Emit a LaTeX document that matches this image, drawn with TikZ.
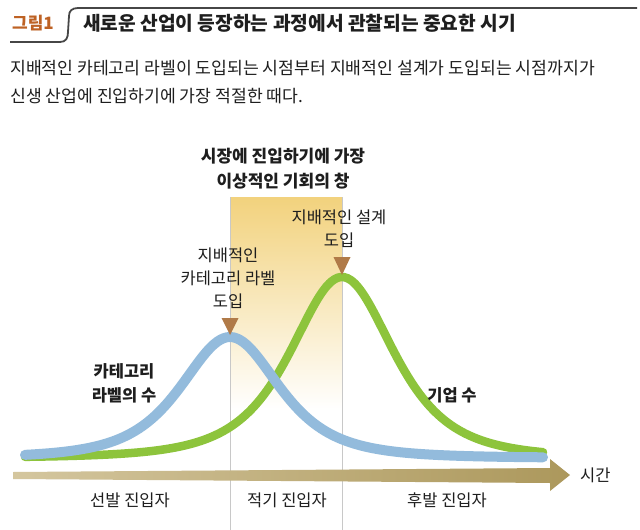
\documentclass[tikz,border=0pt]{standalone}
\usepackage{fontspec}
\setmainfont{Noto Sans CJK KR}
\definecolor{figorange}{RGB}{190,98,36}
\definecolor{curveblue}{RGB}{147,187,220}
\definecolor{curvegreen}{RGB}{141,196,60}
\definecolor{markbrown}{RGB}{176,122,72}
\definecolor{goldtop}{RGB}{242,210,125}
\definecolor{axisleft}{RGB}{212,198,158}
\definecolor{axisright}{RGB}{172,152,92}
\definecolor{vline}{RGB}{200,200,200}
\definecolor{framecol}{RGB}{70,70,70}
\definecolor{txt}{RGB}{30,30,30}
\begin{document}
\begin{tikzpicture}[x=1pt,y=-1pt,
  lbl/.style={font=\fontsize{16.5}{23}\selectfont, text=txt, align=center, inner sep=0pt},
  blbl/.style={font=\fontsize{16.5}{24}\selectfont\bfseries, text=txt, align=center, inner sep=0pt},
  bodytxt/.style={font=\fontsize{17.2}{20}\selectfont, text=txt, anchor=west, inner sep=0pt},
  markerfill/.style={fill=markbrown},
  windowline/.style={draw=vline, line width=1pt},
  bluecurve/.style={draw=curveblue, line width=10pt, line cap=round},
  greencurve/.style={draw=curvegreen, line width=8.5pt, line cap=round}
]
\useasboundingbox (0,0) rectangle (640,530);
\fill[white] (0,0) rectangle (640,530);

% header
\draw[framecol, line width=1.8pt] (10,42) -- (60,42) .. controls (66,42) and (68,38) .. (68,32) -- (69,16) .. controls (69,11) and (72,8) .. (78,8) -- (637,8);
\node[font=\fontsize{17}{20}\selectfont\bfseries, text=figorange, inner sep=0pt] (fig) at (33,23) {그림1};
\node[anchor=west, font=\fontsize{19.2}{22}\selectfont\bfseries, text=txt, inner sep=0pt] (title) at (83,23) {새로운 산업이 등장하는 과정에서 관찰되는 중요한 시기};
\node[bodytxt] (body1) at (10,68) {지배적인 카테고리 라벨이 도입되는 시점부터 지배적인 설계가 도입되는 시점까지가};
\node[bodytxt] (body2) at (10,96) {신생 산업에 진입하기에 가장 적절한 때다.};

% window of opportunity
\shade[top color=goldtop, bottom color=white] (230,197) rectangle (342,410);
\coordinate (w1t) at (230,197);
\coordinate (w1b) at (230,530);
\coordinate (w2t) at (342,197);
\coordinate (w2b) at (342,530);
\draw[windowline] (w1t) -- (w1b);
\draw[windowline] (w2t) -- (w2b);
\node[blbl, font=\fontsize{17}{25}\selectfont\bfseries] (wintitle) at (283,169) {시장에 진입하기에 가장\\이상적인 기회의 창};

% axis
\shade[left color=axisleft, right color=axisright] (13,472) -- (550,468) -- (550,459) -- (570,475) -- (550,491) -- (550,483) -- (13,479) -- cycle;
\node[lbl, anchor=west] (time) at (580,475) {시간};

% curves
\draw[greencurve] plot[domain=25:543, samples=160, smooth] (\x, {458-181/((1+((\x-342)/94)^2)^2)});
\draw[bluecurve] plot[domain=25:543, samples=160, smooth] (\x, {458-121/((1+((\x-230)/90)^2)^2)});

% markers
\coordinate (m1a) at (221.5,318);
\coordinate (m1b) at (238.5,318);
\coordinate (m1c) at (230,335);
\coordinate (m2a) at (333.5,257);
\coordinate (m2b) at (350.5,257);
\coordinate (m2c) at (342,275);
\fill[markerfill] (m1a) -- (m1b) -- (m1c) -- cycle;
\fill[markerfill] (m2a) -- (m2b) -- (m2c) -- cycle;

% labels
\node[lbl] (catlabel) at (228,278) {지배적인\\카테고리 라벨\\도입};
\node[lbl] (design) at (339,229) {지배적인 설계\\도입};
\node[blbl] (catcount) at (124,383) {카테고리\\라벨의 수};
\node[blbl] (firms) at (452,395) {기업 수};
\node[lbl] (early) at (130,500) {선발 진입자};
\node[lbl] (timely) at (287,500) {적기 진입자};
\node[lbl] (late) at (447,500) {후발 진입자};
\end{tikzpicture}
\end{document}
